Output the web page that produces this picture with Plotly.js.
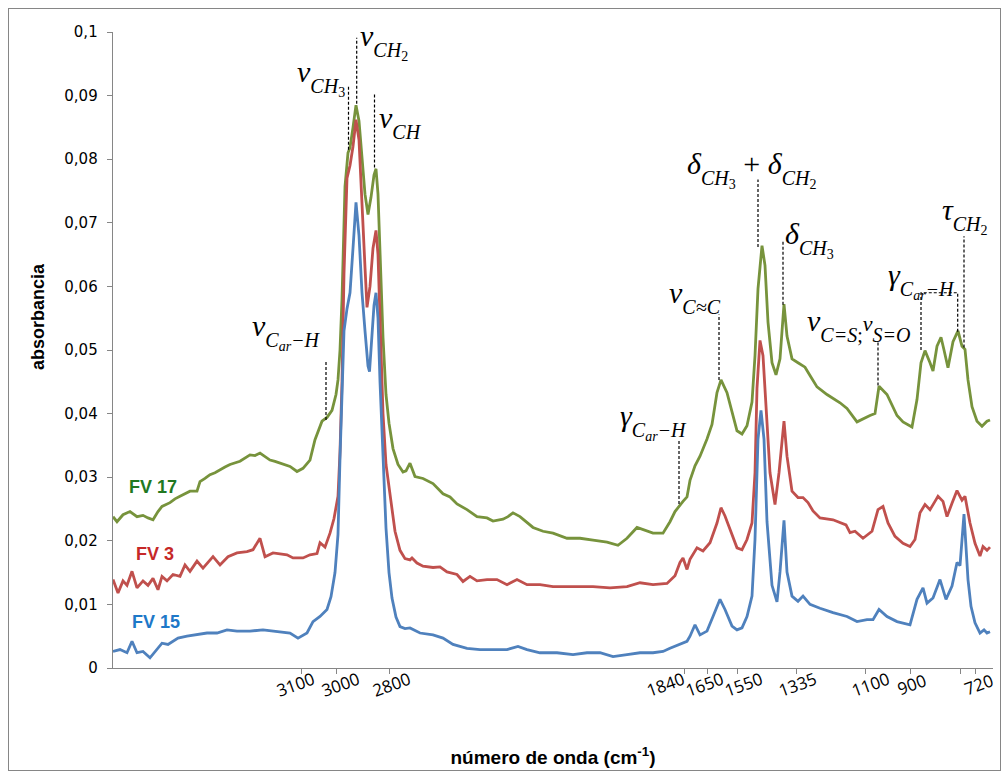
<!DOCTYPE html>
<html><head><meta charset="utf-8">
<script src="https://cdn.plot.ly/plotly-3.0.1.min.js"></script>
<style>
html,body{margin:0;padding:0;background:#fff;}
#frame{position:absolute;left:8px;top:8px;width:993px;height:763px;border:1px solid #868686;box-sizing:border-box;}
#chart{position:absolute;left:0;top:0;width:1003px;height:773px;}
</style></head><body>
<div id="frame"></div>
<div id="chart"></div>
<script>
// x = position index along the (non-linear, category-like) wavenumber axis
// FV 15 (blue)
const posFV15 = [0,7,14,19,24,30,37,42,49,55,65,74,84,94,104,114,124,137,150,164,177,185,194,200,207,214,218,222,225,227,229,231,234,237,240,243,246,249,252,255,256.5,259,261,263,265,267,270,273,276,279,283,287,292,297,307,320,330,340,354,367,380,394,405,414,427,444,460,474,487,500,514,527,540,550,557,567,574,577,582,587,594,600,607,612,619,624,629,634,639,642,645,648,651,654,659,664,667,671,674,679,685,690,697,707,720,734,744,754,760,766,774,784,797,804,810,814,820,827,833,839,844,847,851,855,858,862,867,871,874,877];
const absFV15 = [0.0026,0.0029,0.0024,0.0042,0.0024,0.0026,0.0016,0.0026,0.0039,0.0037,0.0047,0.0050,0.0052,0.0055,0.0055,0.0060,0.0058,0.0058,0.0060,0.0058,0.0055,0.0047,0.0055,0.0073,0.0081,0.0092,0.0112,0.0150,0.0210,0.0330,0.0440,0.0530,0.0565,0.0590,0.0660,0.0732,0.0680,0.0590,0.0530,0.0475,0.0466,0.0520,0.0570,0.0590,0.0550,0.0450,0.0330,0.0220,0.0150,0.0110,0.0080,0.0065,0.0062,0.0063,0.0055,0.0052,0.0047,0.0037,0.0031,0.0029,0.0029,0.0029,0.0034,0.0029,0.0024,0.0024,0.0021,0.0024,0.0024,0.0018,0.0021,0.0024,0.0024,0.0026,0.0031,0.0037,0.0042,0.0050,0.0068,0.0052,0.0058,0.0081,0.0108,0.0092,0.0066,0.0060,0.0063,0.0081,0.0113,0.0202,0.0360,0.0405,0.0360,0.0230,0.0130,0.0104,0.0151,0.0232,0.0151,0.0113,0.0105,0.0113,0.0100,0.0094,0.0087,0.0081,0.0073,0.0076,0.0076,0.0092,0.0081,0.0073,0.0068,0.0108,0.0126,0.0102,0.0110,0.0139,0.0108,0.0129,0.0166,0.0161,0.0242,0.0139,0.0097,0.0071,0.0055,0.0060,0.0055,0.0057];

// FV 3 (red)
const posFV3 = [0,5,10,14,19,24,30,35,40,45,49,54,60,67,72,77,84,90,100,107,115,124,134,140,147,152,160,174,180,190,197,204,207,212,217,221,225,227,229,231,234,237,240,243,246,249,252,254,257,260,263,265,267,270,273,277,282,287,292,297,299,304,310,320,327,334,344,350,357,364,374,384,394,404,414,427,440,460,480,497,514,527,540,554,562,567,570,574,577,584,590,597,604,608,612,617,624,629,634,639,642,644,647,650,653,657,662,666,671,674,679,685,690,695,700,707,720,729,733,737,742,750,759,765,770,775,782,790,797,802,807,812,817,822,825,830,834,839,844,849,852,857,862,867,870,874,877];
const absFV3 = [0.0139,0.0118,0.0137,0.0130,0.0152,0.0126,0.0137,0.0130,0.0141,0.0123,0.0144,0.0137,0.0147,0.0144,0.0162,0.0152,0.0168,0.0157,0.0175,0.0162,0.0175,0.0181,0.0183,0.0186,0.0204,0.0175,0.0181,0.0178,0.0173,0.0173,0.0178,0.0180,0.0197,0.0190,0.0212,0.0235,0.0270,0.0340,0.0450,0.0620,0.0770,0.0790,0.0820,0.0862,0.0830,0.0720,0.0630,0.0567,0.0600,0.0660,0.0688,0.0650,0.0540,0.0400,0.0320,0.0270,0.0215,0.0185,0.0172,0.0170,0.0173,0.0165,0.0160,0.0158,0.0159,0.0151,0.0147,0.0136,0.0144,0.0137,0.0139,0.0139,0.0131,0.0139,0.0131,0.0131,0.0128,0.0128,0.0128,0.0126,0.0128,0.0134,0.0131,0.0133,0.0145,0.0166,0.0173,0.0155,0.0171,0.0189,0.0184,0.0197,0.0228,0.0252,0.0239,0.0218,0.0189,0.0186,0.0202,0.0228,0.0307,0.0440,0.0515,0.0491,0.0412,0.0307,0.0257,0.0307,0.0388,0.0333,0.0278,0.0268,0.0268,0.0260,0.0247,0.0236,0.0233,0.0228,0.0225,0.0213,0.0215,0.0204,0.0215,0.0249,0.0254,0.0228,0.0207,0.0196,0.0191,0.0202,0.0244,0.0257,0.0249,0.0262,0.0270,0.0262,0.0238,0.0259,0.0279,0.0264,0.0270,0.0228,0.0196,0.0176,0.0191,0.0185,0.0190];

// FV 17 (green)
const posFV17 = [0,4,10,17,24,30,35,40,45,49,57,62,67,72,77,84,87,92,97,102,107,112,117,127,137,142,147,152,157,162,167,172,177,184,190,197,202,209,214,219,223,225,227,229,232,235,237,240,243,246,249,252,255,258,261,263,265,267,270,273,276,280,285,290,293,297,302,310,320,330,337,344,354,364,374,380,390,395,400,407,414,420,430,440,454,467,480,494,505,514,524,534,540,550,557,562,567,570,574,577,582,587,594,599,604,608,614,619,624,629,634,639,642,645,649,652,655,659,663,667,671,674,679,685,692,697,704,714,727,734,744,757,762,766,774,784,790,799,804,808,812,817,820,824,828,831,835,840,845,849,852,855,859,864,869,874,877];
const absFV17 = [0.0238,0.0230,0.0241,0.0246,0.0238,0.0240,0.0236,0.0233,0.0246,0.0254,0.0260,0.0266,0.0270,0.0274,0.0278,0.0278,0.0293,0.0298,0.0304,0.0307,0.0312,0.0316,0.0320,0.0325,0.0335,0.0334,0.0338,0.0333,0.0327,0.0325,0.0322,0.0320,0.0317,0.0309,0.0314,0.0327,0.0359,0.0388,0.0394,0.0405,0.0430,0.0453,0.0500,0.0580,0.0757,0.0810,0.0818,0.0850,0.0885,0.0860,0.0800,0.0745,0.0713,0.0740,0.0775,0.0785,0.0745,0.0660,0.0520,0.0430,0.0385,0.0345,0.0320,0.0308,0.0310,0.0322,0.0301,0.0298,0.0290,0.0274,0.0269,0.0258,0.0249,0.0238,0.0236,0.0231,0.0234,0.0238,0.0244,0.0238,0.0228,0.0221,0.0215,0.0212,0.0204,0.0204,0.0201,0.0198,0.0193,0.0204,0.0221,0.0215,0.0212,0.0212,0.0230,0.0246,0.0257,0.0262,0.0269,0.0295,0.0318,0.0333,0.0360,0.0383,0.0433,0.0453,0.0433,0.0402,0.0373,0.0368,0.0381,0.0418,0.0491,0.0596,0.0664,0.0633,0.0544,0.0480,0.0461,0.0486,0.0572,0.0522,0.0486,0.0480,0.0473,0.0460,0.0442,0.0430,0.0417,0.0408,0.0387,0.0397,0.0400,0.0443,0.0430,0.0397,0.0387,0.0379,0.0422,0.0480,0.0499,0.0480,0.0467,0.0506,0.0520,0.0500,0.0472,0.0513,0.0530,0.0506,0.0501,0.0453,0.0411,0.0388,0.0380,0.0388,0.0390];

// axis ticks (wavenumber, cm-1)
const tickMarkPos = [188,223.7,276,571.3,594.3,624.3,683.7,752.3,797.7,847,862];
const tickLabels = ['3100','3000','2800','1840','1650','1550','1335','1100','900','720'];
const tickLabelPos = [182,227,278,552,591,630,684,757,798,865];

// series names
const seriesNames = ['FV 17','FV 3','FV 15'];
const seriesNamePos = [40,42,43];
const seriesNameVal = [0.0284,0.0179,0.0073];
const seriesLineColors = ['#77933C','#C0504D','#4F81BD'];
const seriesTextColors = ['#217821','#C62828','#1E78C8'];

// band assignments (subscripts lowered with nested <sub>, sizes fixed by span)
const SUB_A = '<sub><sub><span style="font-size:20px">';
const SUB_B = '</span></sub></sub>';
const SUB2_A = '<sub><span style="font-size:14px">';
const SUB2_B = '</span></sub>';
const bandText = [
  '<i>ν</i>' + SUB_A + '<i>CH</i>' + SUB2_A + '3' + SUB2_B + SUB_B,
  '<i>ν</i>' + SUB_A + '<i>CH</i>' + SUB2_A + '2' + SUB2_B + SUB_B,
  '<i>ν</i>' + SUB_A + '<i>CH</i>' + SUB_B,
  '<i>ν</i>' + SUB_A + '<i>C</i>' + SUB2_A + '<i>ar</i>' + SUB2_B + '<i>−H</i>' + SUB_B,
  '<i>γ</i>' + SUB_A + '<i>C</i>' + SUB2_A + '<i>ar</i>' + SUB2_B + '<i>−H</i>' + SUB_B,
  '<i>ν</i>' + SUB_A + '<i>C≈C</i>' + SUB_B,
  '<i>δ</i>' + SUB_A + '<i>CH</i>' + SUB2_A + '3' + SUB2_B + SUB_B + ' + <i>δ</i>' + SUB_A + '<i>CH</i>' + SUB2_A + '2' + SUB2_B + SUB_B,
  '<i>δ</i>' + SUB_A + '<i>CH</i>' + SUB2_A + '3' + SUB2_B + SUB_B,
  '<i>ν</i>' + SUB_A + '<i>C=S</i>;' + SUB_B + '<span style="font-size:22px"><i>ν</i></span>' + SUB_A + '<i>S=O</i>' + SUB_B,
  '<i>γ</i>' + SUB_A + '<i>C</i>' + SUB2_A + '<i>ar</i>' + SUB2_B + '<i>−H</i>' + SUB_B,
  '<i>τ</i>' + SUB_A + '<i>CH</i>' + SUB2_A + '2' + SUB2_B + SUB_B
];
const bandPos = [182,245,264,137,505,554,572,670,692,773,827];
const bandVal = [0.0928,0.0985,0.0859,0.0529,0.0387,0.0584,0.0784,0.0673,0.0540,0.0610,0.0711];
// leader lines: [pos, top value, bottom value]
const leaderPos = [235.5,243.7,261.5,213,566,606,645,670,765,851];
const leaderTop = [0.0917,0.0991,0.0903,0.0482,0.0359,0.0556,0.0768,0.0673,0.0513,0.0679];
const leaderBot = [0.0815,0.0887,0.0787,0.0390,0.0258,0.0453,0.0662,0.0571,0.0444,0.0504];
// bracket for the two aromatic γ bands
const bracketPos = [808,808,844.7,844.7];
const bracketVal = [0.0500,0.0590,0.0590,0.0527];

const traces = [
  {x: posFV17, y: absFV17, name: seriesNames[0]},
  {x: posFV3, y: absFV3, name: seriesNames[1]},
  {x: posFV15, y: absFV15, name: seriesNames[2]}
].map((t,i)=>Object.assign(t,{type:'scatter',mode:'lines',line:{color:seriesLineColors[i],width:2.8},hoverinfo:'skip'}));

const annotations = [];
tickLabels.forEach((t,i)=>annotations.push({x:tickLabelPos[i],y:-0.0255,xref:'x',yref:'paper',text:t,showarrow:false,textangle:-20,
  font:{family:'Open Sans',size:17,color:'#000'},xanchor:'center',yanchor:'middle'}));
seriesNames.forEach((t,i)=>annotations.push({x:seriesNamePos[i],y:seriesNameVal[i],xref:'x',yref:'y',text:'<b>'+t+'</b>',showarrow:false,
  font:{family:'Liberation Sans',size:18,color:seriesTextColors[i]},xanchor:'center',yanchor:'middle'}));
bandText.forEach((t,i)=>annotations.push({x:bandPos[i],y:bandVal[i],xref:'x',yref:'y',text:t,showarrow:false,
  font:{family:'Liberation Serif',size:30,color:'#000'},xanchor:'left',yanchor:'middle'}));
// y axis title (placed as in the reference, slightly above the plot centre)
annotations.push({x:-0.0852,y:0.552,xref:'paper',yref:'paper',text:'<b>absorbancia</b>',showarrow:false,textangle:-90,
  font:{family:'Liberation Sans',size:18,color:'#000'},xanchor:'center',yanchor:'middle'});

const dashLine = {color:'#000',width:1.2,dash:'3px,2px'};
const shapes = leaderPos.map((p,i)=>({type:'line',xref:'x',yref:'y',x0:p,x1:p,y0:leaderBot[i],y1:leaderTop[i],line:dashLine}));
shapes.push({type:'path',xref:'x',yref:'y',
  path:'M'+bracketPos.map((p,i)=>p+','+bracketVal[i]).join(' L'),line:dashLine});

const layout = {
  width:1003,height:773,
  margin:{l:113,r:10,t:32,b:105},
  paper_bgcolor:'rgba(0,0,0,0)',plot_bgcolor:'rgba(0,0,0,0)',
  separators:',.',
  showlegend:false,
  xaxis:{range:[0,880],showgrid:false,zeroline:false,showline:true,linecolor:'#868686',linewidth:1.3,
    ticks:'outside',ticklen:5,tickcolor:'#868686',tickvals:tickMarkPos,showticklabels:false,
    title:{text:'<b>número de onda (cm<sup>-1</sup>)</b>',font:{family:'Liberation Sans',size:19,color:'#000'},standoff:77}},
  yaxis:{range:[0,0.1],dtick:0.01,showgrid:false,zeroline:false,showline:true,linecolor:'#868686',linewidth:1.3,
    ticks:'outside',ticklen:5,tickcolor:'#868686',ticklabelstandoff:6,
    tickfont:{family:'DejaVu Sans',size:15,color:'#000'}},
  annotations:annotations,
  shapes:shapes
};
Plotly.newPlot('chart',traces,layout,{displayModeBar:false,staticPlot:true});
</script></body></html>
